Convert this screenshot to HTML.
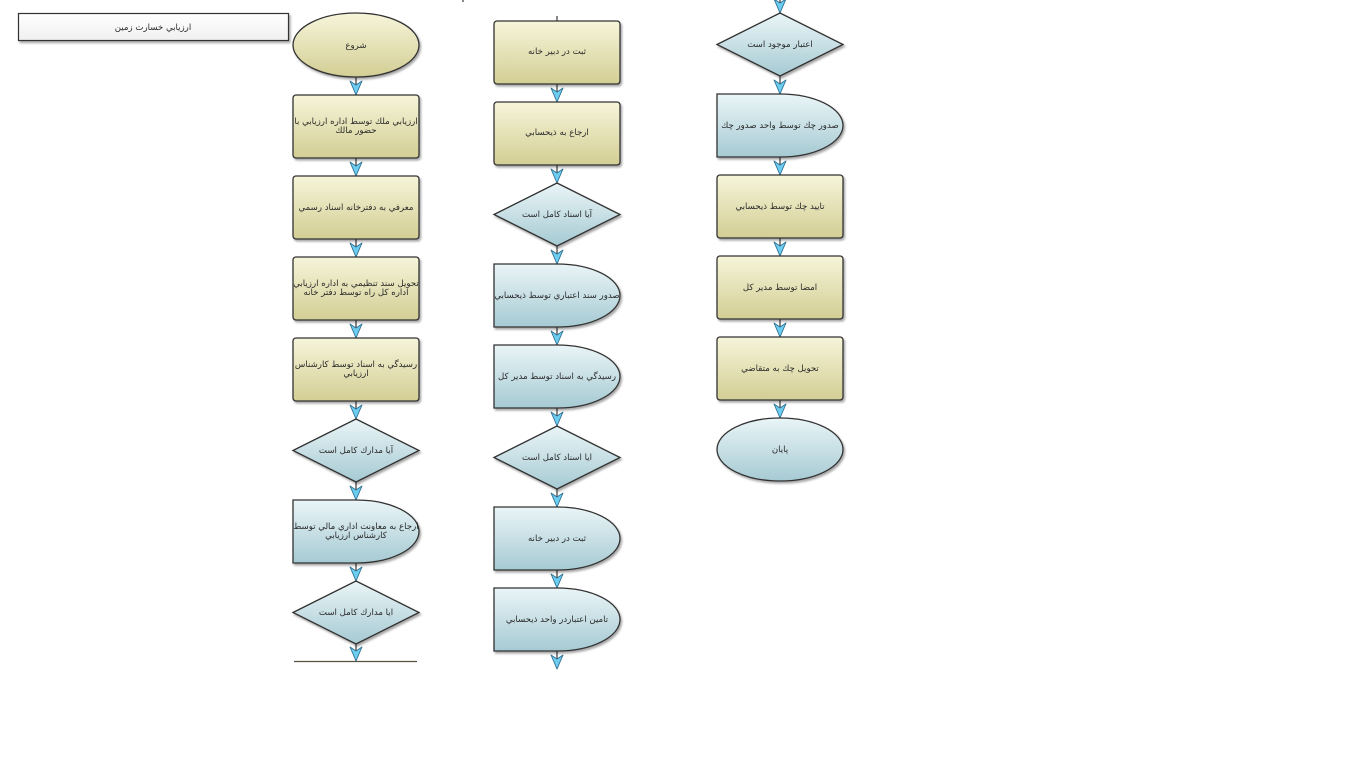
<!DOCTYPE html>
<html><head><meta charset="utf-8">
<style>
html,body{margin:0;padding:0;background:#fff;width:1366px;height:768px;overflow:hidden}
svg{display:block}
text{font-family:"DejaVu Sans","Liberation Sans",sans-serif;font-size:8.6px;fill:#2a2a2a}
</style></head><body>
<svg width="1366" height="768" viewBox="0 0 1366 768" xmlns="http://www.w3.org/2000/svg">
<defs>
<linearGradient id="yg" x1="0" y1="0" x2="0" y2="1">
<stop offset="0" stop-color="#f6f5da"/><stop offset="1" stop-color="#d3ce94"/>
</linearGradient>
<linearGradient id="bg" x1="0" y1="0" x2="0" y2="1">
<stop offset="0" stop-color="#eaf5f7"/><stop offset="1" stop-color="#a6cad3"/>
</linearGradient>
<linearGradient id="wg" x1="0" y1="0" x2="0" y2="1">
<stop offset="0" stop-color="#ffffff"/><stop offset="1" stop-color="#f0f0f0"/>
</linearGradient>
<filter id="sh" x="-10%" y="-10%" width="125%" height="130%">
<feDropShadow dx="1.5" dy="2" stdDeviation="1" flood-color="#000" flood-opacity="0.35"/>
</filter>
</defs>

<!-- title -->
<rect x="18.5" y="13.5" width="270" height="27" fill="url(#wg)" stroke="#333" stroke-width="1.2" filter="url(#sh)"/>
<text x="153" y="30" text-anchor="middle" direction="rtl">ارزيابي خسارت زمين</text>

<!-- connectors -->
<g stroke="#3a3a3a" stroke-width="1.2">
<line x1="356" y1="77" x2="356" y2="95"/><line x1="356" y1="158" x2="356" y2="176"/>
<line x1="356" y1="239" x2="356" y2="257"/><line x1="356" y1="320" x2="356" y2="338"/>
<line x1="356" y1="401" x2="356" y2="419"/><line x1="356" y1="482" x2="356" y2="500"/>
<line x1="356" y1="563" x2="356" y2="581"/><line x1="356" y1="644" x2="356" y2="661"/>
<line x1="557" y1="84" x2="557" y2="102"/><line x1="557" y1="165" x2="557" y2="183"/>
<line x1="557" y1="246" x2="557" y2="264"/><line x1="557" y1="327" x2="557" y2="345"/>
<line x1="557" y1="408" x2="557" y2="426"/><line x1="557" y1="489" x2="557" y2="507"/>
<line x1="557" y1="570" x2="557" y2="588"/><line x1="557" y1="651" x2="557" y2="669"/>
<line x1="557" y1="16" x2="557" y2="21"/>
<line x1="780" y1="0" x2="780" y2="13"/><line x1="780" y1="76" x2="780" y2="94"/>
<line x1="780" y1="157" x2="780" y2="175"/><line x1="780" y1="238" x2="780" y2="256"/>
<line x1="780" y1="319" x2="780" y2="337"/><line x1="780" y1="400" x2="780" y2="418"/>
<line x1="294" y1="661.5" x2="417" y2="661.5" stroke="#5a5040"/>
<line x1="463" y1="0" x2="463" y2="2"/>
</g>

<!-- arrowheads -->
<g fill="#6ccdf0" stroke="#2f6f8f" stroke-width="0.9" stroke-linejoin="round">
<polygon points="356,95 350,81 356,85 362,81"/><polygon points="356,176 350,162 356,166 362,162"/>
<polygon points="356,257 350,243 356,247 362,243"/><polygon points="356,338 350,324 356,328 362,324"/>
<polygon points="356,419 350,405 356,409 362,405"/><polygon points="356,500 350,486 356,490 362,486"/>
<polygon points="356,581 350,567 356,571 362,567"/><polygon points="356,661 350,647 356,651 362,647"/>
<polygon points="557,102 551,88 557,92 563,88"/><polygon points="557,183 551,169 557,173 563,169"/>
<polygon points="557,264 551,250 557,254 563,250"/><polygon points="557,345 551,331 557,335 563,331"/>
<polygon points="557,426 551,412 557,416 563,412"/><polygon points="557,507 551,493 557,497 563,493"/>
<polygon points="557,588 551,574 557,578 563,574"/><polygon points="557,669 551,655 557,659 563,655"/>
<polygon points="780,13 774,-1 780,3 786,-1"/><polygon points="780,94 774,80 780,84 786,80"/>
<polygon points="780,175 774,161 780,165 786,161"/><polygon points="780,256 774,242 780,246 786,242"/>
<polygon points="780,337 774,323 780,327 786,323"/><polygon points="780,418 774,404 780,408 786,404"/>
</g>

<!-- shapes -->
<g stroke="#333" stroke-width="1.3" filter="url(#sh)">
<!-- column 1 -->
<ellipse cx="356" cy="45" rx="63" ry="32" fill="url(#yg)"/>
<rect x="293" y="95" width="126" height="63" rx="3" fill="url(#yg)"/>
<rect x="293" y="176" width="126" height="63" rx="3" fill="url(#yg)"/>
<rect x="293" y="257" width="126" height="63" rx="3" fill="url(#yg)"/>
<rect x="293" y="338" width="126" height="63" rx="3" fill="url(#yg)"/>
<polygon points="293,450.5 356,419 419,450.5 356,482" fill="url(#bg)"/>
<path d="M293,500 H356 A63,31.5 0 0 1 356,563 H293 Z" fill="url(#bg)"/>
<polygon points="293,612.5 356,581 419,612.5 356,644" fill="url(#bg)"/>
<!-- column 2 -->
<rect x="494" y="21" width="126" height="63" rx="3" fill="url(#yg)"/>
<rect x="494" y="102" width="126" height="63" rx="3" fill="url(#yg)"/>
<polygon points="494,214.5 557,183 620,214.5 557,246" fill="url(#bg)"/>
<path d="M494,264 H557 A63,31.5 0 0 1 557,327 H494 Z" fill="url(#bg)"/>
<path d="M494,345 H557 A63,31.5 0 0 1 557,408 H494 Z" fill="url(#bg)"/>
<polygon points="494,457.5 557,426 620,457.5 557,489" fill="url(#bg)"/>
<path d="M494,507 H557 A63,31.5 0 0 1 557,570 H494 Z" fill="url(#bg)"/>
<path d="M494,588 H557 A63,31.5 0 0 1 557,651 H494 Z" fill="url(#bg)"/>
<!-- column 3 -->
<polygon points="717,44.5 780,13 843,44.5 780,76" fill="url(#bg)"/>
<path d="M717,94 H780 A63,31.5 0 0 1 780,157 H717 Z" fill="url(#bg)"/>
<rect x="717" y="175" width="126" height="63" rx="3" fill="url(#yg)"/>
<rect x="717" y="256" width="126" height="63" rx="3" fill="url(#yg)"/>
<rect x="717" y="337" width="126" height="63" rx="3" fill="url(#yg)"/>
<ellipse cx="780" cy="449.5" rx="63" ry="31.5" fill="url(#bg)"/>
</g>

<!-- labels -->
<g text-anchor="middle" direction="rtl">
<text x="356" y="48">شروع</text>
<text x="356" y="124">ارزيابي ملك توسط اداره ارزيابي با</text>
<text x="356" y="133">حضور مالك</text>
<text x="356" y="210">معرفي به دفترخانه اسناد رسمي</text>
<text x="356" y="286">تحويل سند تنظيمي به اداره ارزيابي</text>
<text x="356" y="295">اداره كل راه توسط دفتر خانه</text>
<text x="356" y="367">رسيدگي به اسناد توسط كارشناس</text>
<text x="356" y="376">ارزيابي</text>
<text x="356" y="453">آيا مدارك كامل است</text>
<text x="356" y="529">ارجاع به معاونت اداري مالي توسط</text>
<text x="356" y="538">كارشناس ارزيابي</text>
<text x="356" y="615">ايا مدارك كامل است</text>

<text x="557" y="54">ثبت در دبير خانه</text>
<text x="557" y="135">ارجاع به ذيحسابي</text>
<text x="557" y="217">آيا اسناد كامل است</text>
<text x="557" y="298">صدور سند اعتباري توسط ذيحسابي</text>
<text x="557" y="379">رسيدگي به اسناد توسط مدير كل</text>
<text x="557" y="460">ايا اسناد كامل است</text>
<text x="557" y="541">ثبت در دبير خانه</text>
<text x="557" y="622">تامين اعتباردر واحد ذيحسابي</text>

<text x="780" y="47">اعتبار موجود است</text>
<text x="780" y="128">صدور چك توسط واحد صدور چك</text>
<text x="780" y="209">تاييد چك  توسط ذيحسابي</text>
<text x="780" y="290">امضا توسط مدير كل</text>
<text x="780" y="371">تحويل چك به متقاضي</text>
<text x="780" y="452">پايان</text>
</g>
</svg>
</body></html>
